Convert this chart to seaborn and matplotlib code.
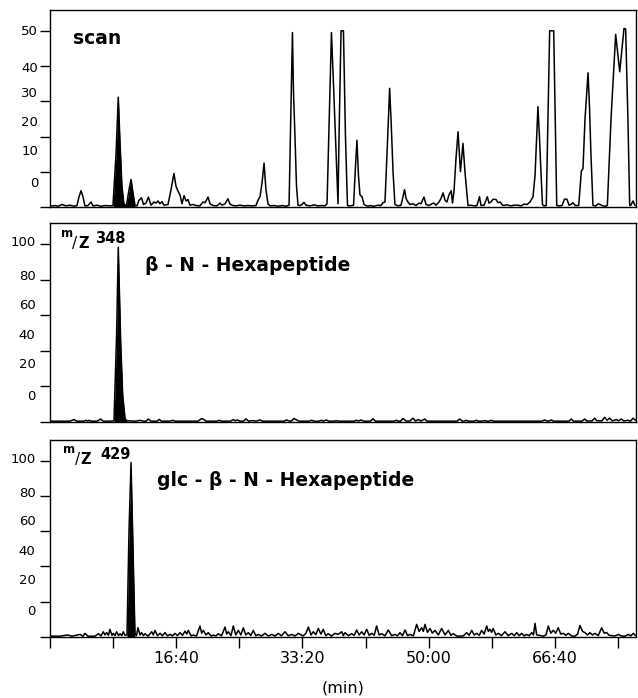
import numpy as np
import pandas as pd
import matplotlib
matplotlib.use("Agg")
import matplotlib.pyplot as plt
import seaborn as sns

# ---------------- data (time in seconds, intensity) ----------------
scan_t = [0, 40, 63, 95, 127, 158, 190, 214, 230, 246, 261, 277, 301, 325, 341, 372, 404, 436, 475, 499,
          523, 541, 555, 570, 586, 606, 626, 642, 658, 673, 689, 705, 725, 741, 761, 780, 800, 824, 840, 856,
          871, 887, 903, 935, 959, 982, 998, 1014, 1030, 1046, 1062, 1078, 1093, 1109, 1133, 1157, 1188, 1212,
          1228, 1252, 1268, 1291, 1323, 1347, 1363, 1387, 1410, 1426, 1450, 1474, 1505, 1537, 1569, 1600, 1632,
          1648, 1664, 1680, 1696, 1711, 1727, 1743, 1775, 1806, 1838, 1870, 1894, 1905, 1921, 1929, 1941, 1953,
          1965, 1981, 1997, 2012, 2028, 2060, 2092, 2123, 2155, 2179, 2195, 2230, 2246, 2266, 2282, 2290, 2306,
          2325, 2341, 2357, 2377, 2405, 2421, 2432, 2444, 2456, 2472, 2488, 2504, 2520, 2535, 2567, 2599, 2623,
          2638, 2654, 2670, 2691, 2702, 2718, 2733, 2757, 2781, 2797, 2809, 2821, 2836, 2852, 2876, 2900, 2924,
          2939, 2963, 2979, 3003, 3027, 3042, 3058, 3082, 3098, 3114, 3130, 3145, 3161, 3179, 3189, 3201, 3217,
          3233, 3252, 3272, 3288, 3312, 3336, 3359, 3383, 3403, 3415, 3439, 3465, 3478, 3494, 3510, 3534, 3550,
          3565, 3589, 3621, 3653, 3677, 3708, 3732, 3756, 3779, 3803, 3827, 3843, 3866, 3878, 3890, 3902, 3914,
          3932, 3959, 3991, 4015, 4033, 4057, 4076, 4096, 4112, 4128, 4144, 4160, 4189, 4210, 4223, 4239, 4263,
          4275, 4286, 4302, 4326, 4342, 4358, 4381, 4397, 4416, 4445, 4482, 4514, 4548, 4561, 4579, 4593, 4603,
          4619, 4635]
scan_v = [0.3, 0.5, 0.3, 0.8, 0.4, 0.6, 0.3, 0.5, 3, 4.7, 3, 0.4, 0.5, 1.5, 0.4, 0.6, 0.3, 0.5, 0.4, 0.5,
          15, 31.2, 18, 6, 0.8, 0.6, 5, 7.9, 4, 0.6, 0.4, 2, 2.7, 0.8, 1.2, 2.9, 0.6, 1.5, 1.2, 1.8,
          1.0, 1.6, 0.6, 0.8, 5, 9.6, 6, 4.6, 3.5, 1.0, 3.3, 1.8, 2.2, 0.6, 0.8, 0.5, 0.4, 1.5,
          1.3, 2.9, 1.0, 0.5, 0.4, 1.2, 0.6, 1.0, 2.4, 0.9, 0.5, 0.4, 0.6, 0.4, 0.5, 0.4, 0.5,
          2, 3, 7, 12.5, 5, 1.0, 0.4, 0.5, 0.3, 0.5, 0.3, 0.6, 20, 49.5, 33, 20, 6,
          0.6, 0.5, 0.8, 1.4, 0.6, 0.4, 0.7, 0.4, 0.5, 0.4, 1, 49.5, 35, 16, 1, 20, 50,
          50, 20, 0.5, 0.4, 0.6, 12, 19, 9, 3.5, 3, 0.8, 0.5, 0.3, 0.5, 0.3, 0.6, 0.5,
          1.3, 1.5, 15, 33.7, 25, 10, 0.8, 0.4, 0.6, 3, 5, 2.5, 1.5, 0.8, 1.0, 0.5, 1.2,
          1.0, 2.9, 0.8, 0.5, 1.0, 1.2, 0.6, 1.5, 2.5, 4.1, 2, 1.5, 3.5, 4.7, 1.2, 4.5, 14,
          21.4, 10.1, 18.1, 10, 0.5, 0.6, 0.4, 0.5, 3, 0.5, 0.6, 3, 1.2, 1.5, 2.3, 2.2, 1.3,
          1.5, 0.5, 0.7, 0.4, 0.6, 0.6, 0.4, 0.9, 0.8, 1.5, 3, 9, 28.5, 20, 10, 0.8, 0.4,
          0.5, 50, 50, 0.5, 0.4, 0.5, 2.3, 2.3, 0.6, 0.8, 1.3, 0.5, 0.5, 10.2, 11, 25, 38.1,
          28, 15, 0.5, 0.4, 1.0, 0.8, 0.4, 0.3, 0.5, 25, 49, 38.4, 50.7, 50.5, 25, 0.5, 0.6,
          1.8, 0.5]

mz348_t = [0, 158, 190, 214, 269, 285, 297, 309, 325, 372, 402, 420, 475, 507, 528, 541, 560, 576, 594, 608,
           681, 713, 737, 761, 779, 800, 848, 866, 883, 951, 972, 990, 1173, 1202, 1220, 1236, 1323, 1341, 1359,
           1430, 1452, 1468, 1484, 1505, 1533, 1553, 1573, 1611, 1632, 1664, 1684, 1854, 1875, 1894, 1913, 1933,
           1955, 1973, 2052, 2073, 2092, 2131, 2150, 2167, 2189, 2207, 2250, 2268, 2286, 2409, 2427, 2447, 2466,
           2484, 2539, 2559, 2579, 2725, 2744, 2761, 2777, 2797, 2821, 2852, 2876, 2896, 2916, 2939, 2969, 2987,
           3225, 3246, 3268, 3280, 3298, 3316, 3359, 3378, 3395, 3427, 3444, 3462, 3478, 3497, 3514, 3898, 3919,
           3938, 3954, 3972, 3989, 4112, 4130, 4148, 4215, 4236, 4254, 4294, 4315, 4333, 4373, 4395, 4413, 4434,
           4456, 4486, 4504, 4526, 4548, 4579, 4599, 4619, 4639]
mz348_v = [0.3, 0.3, 1.2, 0.3, 0.3, 0.8, 0.3, 0.8, 0.3, 0.3, 1.5, 0.3, 0.3, 0.5, 50, 98.3, 45, 15, 2, 0.5,
           0.3, 0.8, 0.3, 0.3, 1.5, 0.3, 0.3, 1.3, 0.3, 0.3, 0.8, 0.3, 0.3, 1.8, 1.2, 0.3, 0.3, 0.8, 0.3,
           0.3, 1.2, 0.5, 1.0, 0.3, 0.3, 1.6, 0.3, 0.6, 0.3, 1.0, 0.3, 0.3, 1.0, 0.3, 0.4, 1.8,
           1.0, 0.3, 0.3, 0.8, 0.3, 0.3, 0.8, 0.3, 1.0, 0.3, 0.3, 0.6, 0.3, 0.3, 0.8, 0.4, 1.0,
           0.3, 0.3, 1.7, 0.3, 0.3, 0.8, 0.3, 0.3, 1.8, 0.4, 0.4, 2.0, 0.4, 1.2, 0.4, 1.5, 0.3,
           0.3, 1.5, 0.3, 0.3, 0.8, 0.3, 0.3, 0.8, 0.3, 0.3, 0.6, 0.3, 0.3, 0.8, 0.3, 0.3, 1.0,
           0.4, 0.4, 1.0, 0.3, 0.3, 1.5, 0.3, 0.3, 1.5, 0.4, 0.4, 2.0, 0.5, 0.5, 2.5, 0.8, 2.0,
           0.4, 1.2, 0.5, 1.5, 0.4, 0.8, 0.3, 2.0, 0.8]

mz429_t = [0, 79, 140, 174, 238, 261, 277, 301, 357, 383, 404, 422, 436, 449, 463, 475, 491, 502, 515, 528,
           543, 555, 569, 581, 594, 610, 626, 642, 658, 673, 685, 697, 713, 726, 741, 753, 776, 806, 818, 832,
           852, 872, 891, 911, 931, 951, 971, 990, 1010, 1030, 1050, 1070, 1083, 1096, 1117, 1135, 1161, 1188,
           1202, 1215, 1236, 1254, 1276, 1294, 1315, 1333, 1359, 1387, 1400, 1413, 1434, 1452, 1472, 1492, 1512,
           1532, 1551, 1571, 1591, 1611, 1631, 1650, 1676, 1703, 1730, 1757, 1783, 1809, 1834, 1862, 1888, 1915,
           1941, 1967, 2005, 2028, 2047, 2068, 2086, 2106, 2126, 2146, 2165, 2185, 2205, 2230, 2258, 2284, 2311,
           2324, 2337, 2363, 2390, 2410, 2430, 2449, 2470, 2489, 2509, 2529, 2549, 2569, 2588, 2608, 2628, 2654,
           2680, 2707, 2733, 2753, 2773, 2793, 2813, 2833, 2852, 2879, 2905, 2925, 2945, 2958, 2971, 2991, 3011,
           3030, 3050, 3077, 3103, 3130, 3156, 3176, 3195, 3222, 3248, 3275, 3301, 3321, 3341, 3361, 3381, 3401,
           3420, 3440, 3460, 3473, 3486, 3499, 3512, 3532, 3552, 3577, 3605, 3631, 3658, 3678, 3698, 3718, 3737,
           3757, 3777, 3797, 3817, 3831, 3843, 3856, 3869, 3908, 3930, 3948, 3968, 3988, 4007, 4027, 4047, 4067,
           4087, 4107, 4133, 4160, 4180, 4199, 4219, 4239, 4259, 4278, 4298, 4318, 4344, 4371, 4391, 4411, 4430,
           4450, 4477, 4503, 4529, 4556, 4582, 4601, 4622, 4639]
mz429_v = [0.3, 0.3, 1.0, 0.3, 1.3, 0.3, 1.9, 0.3, 0.3, 1.7, 0.5, 2.8, 1.0, 2.3, 0.8, 4.2, 0.8, 1.9, 0.6, 2.8,
           0.6, 1.7, 0.6, 2.8, 0.8, 1.0, 60, 99, 50, 2, 0.6, 5.1, 1.0, 2.3, 0.6, 1.7, 0.3, 2.8, 1.0, 3.6,
           0.6, 1.9, 0.6, 2.3, 0.5, 1.3, 0.5, 1.9, 0.6, 2.3, 0.8, 3.2, 1.5, 3.6, 0.5, 0.9, 0.4, 6.1,
           2.0, 3.6, 1.0, 2.3, 0.4, 0.9, 0.4, 1.7, 0.5, 5.5, 1.5, 2.8, 0.6, 6.1, 1.0, 3.6, 1.0,
           5.1, 1.0, 2.3, 0.8, 3.6, 0.5, 1.3, 0.4, 1.9, 0.4, 1.3, 0.4, 1.9, 0.5, 2.8, 0.5, 1.3,
           0.4, 1.9, 0.4, 2, 5.5, 1.0, 2.8, 1.2, 4.7, 1.5, 4.2, 0.6, 1.7, 0.4, 1.9, 1.3, 2.8,
           0.6, 2.3, 0.6, 1.7, 0.8, 3.8, 1.0, 2.8, 1.0, 4.2, 0.8, 1.9, 0.8, 6.1, 1.0, 1.7, 0.5,
           3.8, 0.6, 1.3, 0.5, 2.3, 0.6, 3.8, 0.6, 1.3, 0.5, 7.0, 3.0, 5.1, 3.0, 7.0, 2.5, 4.7,
           2.0, 3.6, 1.0, 4.7, 1.0, 3.6, 0.8, 1.7, 0.4, 0.3, 0.5, 2.3, 0.8, 3.6, 1.0, 1.9, 0.8,
           3.6, 1.5, 6.1, 3.0, 4.2, 2.5, 4.7, 1.0, 1.9, 0.6, 2.8, 0.6, 1.9, 0.6, 2.3, 0.6, 1.9,
           0.5, 1.3, 0.6, 2.3, 1.0, 7.6, 1.0, 0.9, 0.3, 1.0, 6.1, 2.0, 3.6, 2.0, 5.1, 1.5, 1.9,
           0.8, 1.9, 0.4, 0.3, 1.5, 6.4, 3.0, 2.3, 1.0, 2.3, 1.0, 1.9, 0.6, 5.1, 2.0, 2.3, 0.8,
           0.6, 0.4, 1.3, 0.4, 0.3, 1.3, 0.5, 1.9, 0.6]

# filled (black) peak windows, seconds
scan_fill = (499, 673)
mz348_fill = (507, 608)
mz429_fill = (610, 673)

# axis tick values / labels
x_ticks = [0, 500, 1000, 1500, 2000, 2500, 3000, 3500, 4000, 4500]
x_labeled = {1000: "16:40", 2000: "33:20", 3000: "50:00", 4000: "66:40"}
scan_tick_marks = [0, 10, 20, 30, 40, 50]
scan_label_pos = [50.2, 39.8, 32.7, 24.4, 16.2, 7.2]
scan_labels = ["50", "40", "30", "20", "10", "0"]
pct_tick_marks = [0, 20, 40, 60, 80, 100]
pct_label_pos = [101.8, 82.5, 66.3, 49.4, 32.8, 15.1]
pct_labels = ["100", "80", "60", "40", "20", "0"]

# ---------------- figure ----------------
sns.set_style("ticks")
plt.rcParams["font.family"] = ["DejaVu Sans"]
plt.rcParams["axes.linewidth"] = 1.0
for key in ("text.color", "axes.labelcolor", "xtick.color", "ytick.color", "axes.edgecolor"):
    plt.rcParams[key] = "black"

fig = plt.figure(figsize=(6.38, 6.98), dpi=100)
L, W = 50 / 638, 586 / 638
ax1 = fig.add_axes([L, 1 - 207.3 / 698, W, 197.3 / 698])
ax2 = fig.add_axes([L, 1 - 421.7 / 698, W, 198.4 / 698])
ax3 = fig.add_axes([L, 1 - 636.7 / 698, W, 196.7 / 698])

XMAX = 4643


def draw(ax, t, v, fill, ymax):
    df = pd.DataFrame({"t": t, "v": v})
    sns.lineplot(data=df, x="t", y="v", ax=ax, color="black", lw=1.1, estimator=None)
    m = (df.t >= fill[0]) & (df.t <= fill[1])
    ax.fill_between(df.t[m], 0, df.v[m], color="black", lw=0)
    ax.set_xlim(0, XMAX)
    ax.set_ylim(0, ymax)
    ax.set_xlabel("")
    ax.set_ylabel("")
    for s in ax.spines.values():
        s.set_visible(True)
        s.set_color("black")
        s.set_linewidth(1.0)


draw(ax1, scan_t, scan_v, scan_fill, 55.9)
draw(ax2, mz348_t, mz348_v, mz348_fill, 111.8)
draw(ax3, mz429_t, mz429_v, mz429_fill, 111.8)

for ax, marks, lpos, labs, pad in [(ax1, scan_tick_marks, scan_label_pos, scan_labels, 8.5),
                                   (ax2, pct_tick_marks, pct_label_pos, pct_labels, 10.5),
                                   (ax3, pct_tick_marks, pct_label_pos, pct_labels, 10.5)]:
    ax.set_yticks(lpos)
    ax.set_yticklabels(labs)
    ax.set_yticks(marks, minor=True)
    ax.tick_params(axis="y", which="major", length=0, pad=pad, labelsize=9.5, labelcolor="black")
    ax.tick_params(axis="y", which="minor", length=7, width=1.0, direction="out", color="black")

for ax in (ax1, ax2):
    ax.set_xticks([])
    ax.tick_params(axis="x", bottom=False, labelbottom=False)

ax3.set_xticks(x_ticks)
ax3.set_xticklabels([x_labeled.get(t, "") for t in x_ticks])
ax3.tick_params(axis="x", length=8, width=1.0, direction="out", labelsize=11.5, pad=2,
                color="black", labelcolor="black")
ax3.set_xlabel("(min)", fontsize=11.5, labelpad=11, color="black")

# panel annotations
ax1.text(0.039, 0.828, "scan", transform=ax1.transAxes, fontsize=13.5, fontweight="bold",
         va="baseline", ha="left", color="black")

ax2.text(0.0188, 0.931, "m", transform=ax2.transAxes, fontsize=8.5, fontweight="bold", va="baseline")
ax2.text(0.0375, 0.876, "/", transform=ax2.transAxes, fontsize=11, va="baseline")
ax2.text(0.0478, 0.8755, "Z", transform=ax2.transAxes, fontsize=10.5, fontweight="bold", va="baseline")
ax2.text(0.0768, 0.9007, "348", transform=ax2.transAxes, fontsize=10.5, fontweight="bold", va="baseline")
ax2.text(0.162, 0.7596, "β - N - Hexapeptide", transform=ax2.transAxes, fontsize=13.5,
         fontweight="bold", va="baseline", color="black")

ax3.text(0.0222, 0.935, "m", transform=ax3.transAxes, fontsize=8.5, fontweight="bold", va="baseline")
ax3.text(0.0427, 0.877, "/", transform=ax3.transAxes, fontsize=11, va="baseline")
ax3.text(0.0512, 0.8764, "Z", transform=ax3.transAxes, fontsize=10.5, fontweight="bold", va="baseline")
ax3.text(0.0853, 0.9024, "429", transform=ax3.transAxes, fontsize=10.5, fontweight="bold", va="baseline")
ax3.text(0.1826, 0.766, "glc - β - N - Hexapeptide", transform=ax3.transAxes, fontsize=13.5,
         fontweight="bold", va="baseline", color="black")

fig.savefig("out.png", dpi=100)
